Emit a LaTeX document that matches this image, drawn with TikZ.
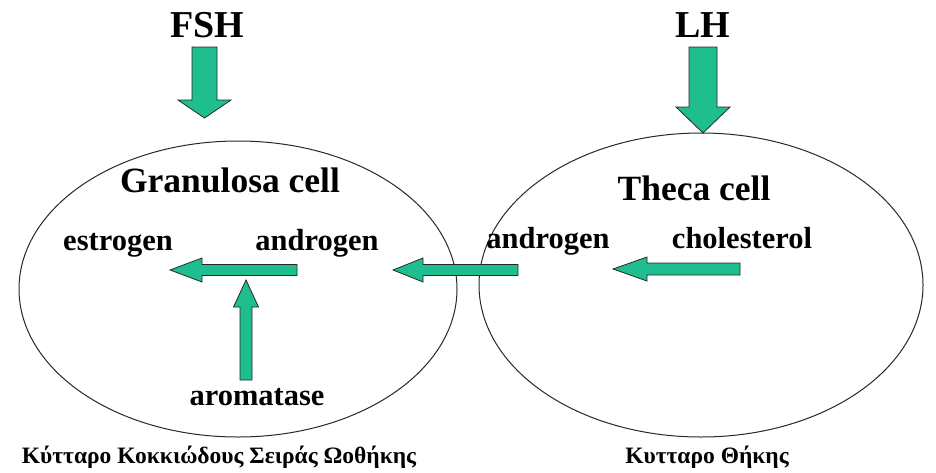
\documentclass[tikz,border=0pt]{standalone}
\usepackage{fontspec}
\setmainfont{Liberation Serif}
\usetikzlibrary{calc,shapes.geometric}
\definecolor{arrgreen}{RGB}{30,190,142}
\definecolor{outl}{RGB}{40,40,40}
\tikzset{
  barrow/.style={fill=arrgreen,draw=outl,line width=0.8pt,line join=miter},
  cellshape/.style={ellipse,draw=outl,line width=1pt,inner sep=0pt},
  title/.style={font=\fontsize{35.5}{37}\selectfont\bfseries,inner sep=0pt,anchor=base},
  hormone/.style={font=\fontsize{38}{40}\selectfont\bfseries,inner sep=0pt,anchor=base},
  lbl/.style={font=\fontsize{30.5}{32}\selectfont\bfseries,inner sep=0pt,anchor=base},
  greek/.style={font=\fontsize{23.5}{25}\selectfont\bfseries,inner sep=0pt,anchor=base},
}
\newcommand{\blockarr}[5]{%
  \coordinate (ba-c) at ($(#2)!#5!(#1)$);
  \draw[barrow] ($(#1)!#3!90:(#2)$) -- ($(ba-c)!#3!-90:(#1)$) -- ($(ba-c)!#4!-90:(#1)$)
    -- (#2) -- ($(ba-c)!#4!90:(#1)$) -- ($(ba-c)!#3!90:(#1)$) -- ($(#1)!#3!-90:(#2)$) -- cycle;}
\begin{document}
\begin{tikzpicture}[x=1pt,y=-1pt]
\useasboundingbox[fill=white] (0,0) rectangle (936,472);
% cells
\node[cellshape,minimum width=438pt,minimum height=296pt] (gc) at (238,289) {};
\node[cellshape,minimum width=444pt,minimum height=304pt] (tc) at (701,285) {};
% texts
\node[hormone] (fsh) at (207,37) {FSH};
\node[hormone] (lh) at (703,37) {LH};
\node[title] (gct) at (230,192) {Granulosa cell};
\node[title] (tct) at (694,200) {Theca cell};
\node[lbl] (estr) at (118,250) {estrogen};
\node[lbl] (andr1) at (317,250) {androgen};
\node[lbl] (andr2) at (548,248) {androgen};
\node[lbl] (chol) at (742,248) {cholesterol};
\node[lbl] (arom) at (257,405) {aromatase};
\node[greek] (gl) at (219,463) {Κύτταρο Κοκκιώδους Σειράς Ωοθήκης};
\node[greek] (gr) at (707,463) {Κυτταρο Θήκης};
% arrow end points
\coordinate (fshT) at (204.5,47); \coordinate (fshH) at (204.5,118);
\coordinate (lhT) at (703,47);   \coordinate (lhH) at (703,133);
\coordinate (a1T) at (297,270);  \coordinate (a1H) at (170,270);
\coordinate (a2T) at (518,270);  \coordinate (a2H) at (393,270);
\coordinate (a3T) at (740,269);  \coordinate (a3H) at (613,269);
\coordinate (a4T) at (246,380);  \coordinate (a4H) at (246,280);
% arrows
\blockarr{fshT}{fshH}{12.5pt}{26.5pt}{18pt}
\blockarr{lhT}{lhH}{14pt}{27pt}{26pt}
\blockarr{a1T}{a1H}{5.5pt}{12pt}{32pt}
\blockarr{a2T}{a2H}{5.5pt}{12pt}{30pt}
\blockarr{a3T}{a3H}{6pt}{12pt}{34pt}
\blockarr{a4T}{a4H}{6pt}{12.5pt}{27pt}
\end{tikzpicture}
\end{document}
